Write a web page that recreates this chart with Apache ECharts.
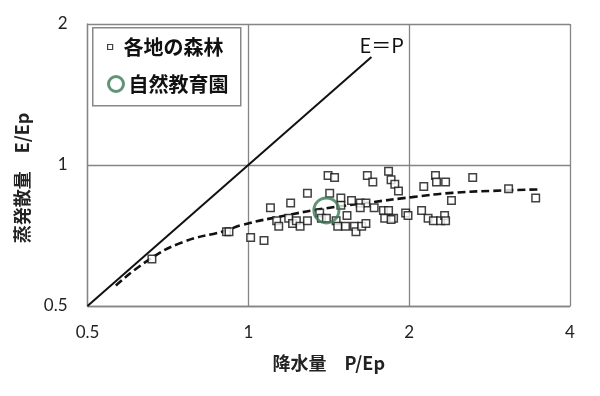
<!DOCTYPE html>
<html>
<head>
<meta charset="utf-8">
<script src="https://cdn.jsdelivr.net/npm/echarts@6/dist/echarts.min.js"></script>
<style>html,body{margin:0;padding:0;background:#fff}#c{width:600px;height:396px}</style>
</head>
<body>
<div id="c"></div>
<script>
// ---- data ----
const forestP = [0.66,0.91,0.92,1.01,1.07,1.10,1.20,1.29,1.13,1.14,1.19,1.21,1.23,1.25,1.29,1.36,1.37,1.40,1.41,1.45,1.42,1.49,1.49,1.56,1.62,1.66,1.62,1.67,1.71,1.83,1.85,1.88,1.91,1.72,1.79,1.83,1.80,1.87,1.85,1.97,1.99,2.11,1.46,1.53,1.47,1.52,1.58,1.59,1.63,1.66,2.24,2.25,2.34,2.13,2.63,2.40,3.07,3.45,2.17,2.22,2.29,2.33,2.34];
const forestE = [0.63,0.72,0.72,0.70,0.69,0.81,0.83,0.87,0.76,0.74,0.77,0.75,0.76,0.74,0.76,0.79,0.77,0.77,0.95,0.94,0.87,0.85,0.82,0.84,0.83,0.83,0.81,0.95,0.92,0.97,0.93,0.91,0.88,0.81,0.80,0.80,0.77,0.77,0.765,0.79,0.78,0.80,0.76,0.78,0.74,0.74,0.74,0.72,0.74,0.75,0.95,0.92,0.92,0.90,0.94,0.84,0.89,0.85,0.77,0.76,0.76,0.78,0.76];
const parkP = [1.40];
const parkE = [0.80];
const curveP = [0.565,0.652,0.753,0.906,0.974,1.174,1.375,1.706,2.025,2.41,2.98,3.52];
const curveE = [0.553,0.628,0.684,0.724,0.745,0.780,0.806,0.833,0.854,0.872,0.882,0.887];
const lineP = [0.5, 1.7];
const lineE = [0.5, 1.7];
const xTicks = [0.5, 1, 2, 4];
const yTicks = [0.5, 1, 2];
const names = ['各地の森林', '自然教育園'];

const zip = (a, b) => a.map((v, i) => [v, b[i]]);
const fmt = v => { const r = Math.round(v * 1000) / 1000; return String(r); };
const gridColor = '#858585';
const chart = echarts.init(document.getElementById('c'), null, {renderer: 'canvas'});
chart.setOption({
  backgroundColor: '#fff',
  animation: false,
  grid: {left: 87.5, top: 24, right: 30, bottom: 90, containLabel: false},
  xAxis: {
    type: 'log', logBase: 2, min: xTicks[0], max: xTicks[xTicks.length - 1], interval: 1,
    axisLine: {show: true, lineStyle: {color: gridColor, width: 1.3}},
    axisTick: {show: false},
    splitLine: {show: true, lineStyle: {color: gridColor, width: 1.3}},
    axisLabel: {margin: 18, fontFamily: 'Lato', fontSize: 17, color: '#222', formatter: fmt},
    name: '降水量　P/Ep', nameLocation: 'middle', nameGap: 48,
    nameTextStyle: {fontFamily: 'Noto Sans CJK JP', fontWeight: 'bold', fontSize: 18, color: '#222'}
  },
  yAxis: {
    type: 'log', logBase: 2, min: yTicks[0], max: yTicks[yTicks.length - 1], interval: 1,
    axisLine: {show: true, lineStyle: {color: gridColor, width: 1.3}},
    axisTick: {show: false},
    splitLine: {show: true, lineStyle: {color: gridColor, width: 1.3}},
    axisLabel: {margin: 20, fontFamily: 'Lato', fontSize: 17, color: '#222', formatter: fmt},
    name: '蒸発散量　E/Ep', nameLocation: 'middle', nameGap: 56, nameRotate: 90,
    nameTextStyle: {fontFamily: 'Noto Sans CJK JP', fontWeight: 'bold', fontSize: 18, color: '#222', padding: [0, 26, 0, 0]}
  },
  legend: [
    {
      data: [{name: names[0], icon: 'rect'}], left: 107, top: 36, padding: 0,
      itemWidth: 5, itemHeight: 5,
      itemStyle: {color: '#fff', borderColor: '#111', borderWidth: 1.2},
      textStyle: {fontFamily: 'Noto Sans CJK JP', fontWeight: 'bold', fontSize: 20, color: '#111', lineHeight: 22, padding: [0, 0, 0, 6]}
    },
    {
      data: [{name: names[1], icon: 'circle'}], left: 107, top: 73, padding: 0,
      itemWidth: 15, itemHeight: 15,
      itemStyle: {color: '#fff', borderColor: '#3b7a55', borderWidth: 3},
      textStyle: {fontFamily: 'Noto Sans CJK JP', fontWeight: 'bold', fontSize: 20, color: '#111', lineHeight: 22}
    }
  ],
  graphic: [{
    type: 'rect', left: 92, top: 27, z: 0,
    shape: {width: 148, height: 78},
    style: {fill: '#fff', stroke: '#888', lineWidth: 1.5}
  }],
  series: [
    {
      type: 'line', data: zip(lineP, lineE), symbol: 'none',
      lineStyle: {color: '#111', width: 2}, z: 3,
      label: {show: false},
      endLabel: {show: true, formatter: 'E＝P', fontFamily: 'Noto Sans CJK JP', fontSize: 20, color: '#111', offset: [-20, -12]}
    },
    {
      type: 'line', data: zip(curveP, curveE), symbol: 'none', smooth: true,
      lineStyle: {color: '#111', width: 2.6, type: [8, 4]}, z: 4
    },
    {
      name: names[0], type: 'scatter', data: zip(forestP, forestE),
      symbol: 'rect', symbolSize: 7.5,
      itemStyle: {color: '#fff', borderColor: '#111', borderWidth: 1.5}, z: 5
    },
    {
      name: names[1], type: 'scatter', data: zip(parkP, parkE),
      symbol: 'circle', symbolSize: 25,
      itemStyle: {color: 'rgba(0,0,0,0)', borderColor: '#3b7a55', borderWidth: 3}, z: 6
    }
  ]
});
</script>
</body>
</html>
